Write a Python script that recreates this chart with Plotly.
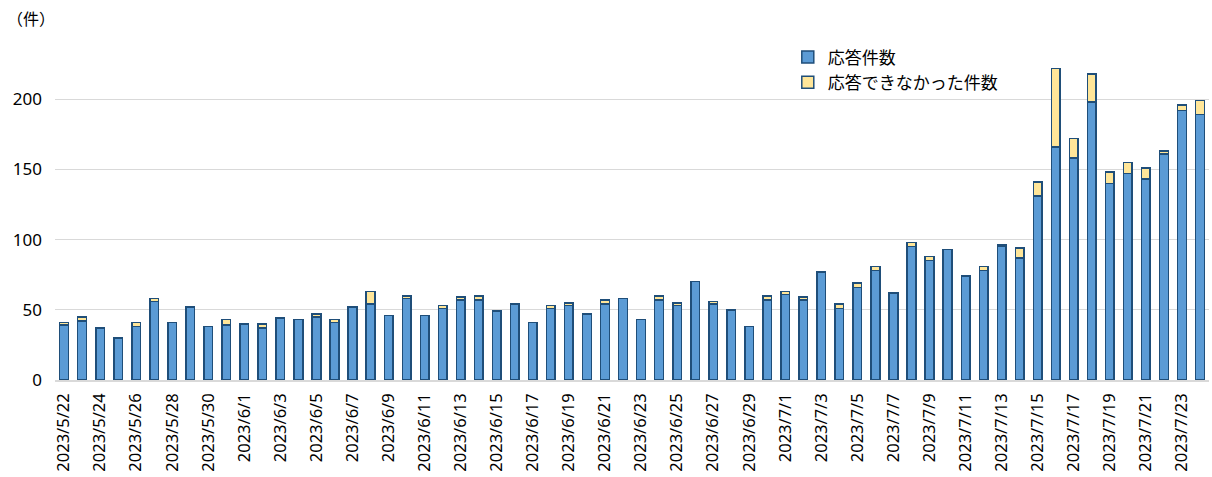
import plotly.graph_objects as go
import datetime as dt

start = dt.date(2023, 5, 22)
dates = [start + dt.timedelta(days=i) for i in range(64)]
categories = [f"{d.year}/{d.month}/{d.day}" for d in dates]

answered = [39, 42, 37, 30, 38, 56, 41, 52, 38, 39,
            40, 37, 44, 43, 45, 41, 52, 54, 46, 58,
            46, 51, 57, 57, 49, 54, 41, 51, 53, 47,
            54, 58, 43, 57, 53, 70, 54, 50, 38, 57,
            61, 57, 77, 51, 66, 78, 62, 95, 85, 93,
            74, 78, 95, 87, 131, 166, 158, 198, 140, 147,
            143, 161, 192, 189]
unanswered = [2, 3, 0, 0, 3, 2, 0, 0, 0, 4,
              0, 3, 0, 0, 2, 2, 0, 9, 0, 2,
              0, 2, 2, 3, 0, 0, 0, 2, 2, 0,
              3, 0, 0, 3, 2, 0, 2, 0, 0, 3,
              2, 2, 0, 3, 3, 3, 0, 3, 3, 0,
              0, 3, 1, 7, 10, 56, 14, 20, 8, 8,
              8, 2, 4, 10]
tick_labels = categories[::2]
y_ticks = [0, 50, 100, 150, 200]

border = "#1F4E79"
fig = go.Figure()
fig.add_trace(go.Bar(x=categories, y=answered, name="応答件数",
                     marker=dict(color="#5B9BD5", line=dict(color=border, width=1.5))))
fig.add_trace(go.Bar(x=categories, y=unanswered, name="応答できなかった件数",
                     marker=dict(color="#FFE699", line=dict(color=border, width=1.5))))

font_main = "'Noto Sans', 'Noto Sans CJK JP', 'Liberation Sans', sans-serif"
fig.update_layout(
    width=1212, height=477,
    barmode="stack", bargap=0.52,
    plot_bgcolor="white", paper_bgcolor="white",
    margin=dict(l=55, r=3, t=29, b=97),
    font=dict(family=font_main, color="#000000", size=15),
    showlegend=True,
    legend=dict(x=0.635, y=0.97, xanchor="left", yanchor="top",
                traceorder="normal", bgcolor="rgba(0,0,0,0)",
                font=dict(size=17, color="#000000", family="'Noto Sans CJK JP', sans-serif"),
                itemwidth=30, tracegroupgap=0),
    xaxis=dict(type="category", tickmode="array", tickvals=tick_labels, ticktext=tick_labels,
               tickangle=-90, showgrid=False, showline=True, linecolor="#D9D9D9", linewidth=1.5,
               ticks="", tickfont=dict(size=16.5, color="#000000"), range=[-0.5, 63.5],
               automargin=False, ticklabelstandoff=5),
    yaxis=dict(range=[0, 250], tickmode="array", tickvals=y_ticks, showgrid=True,
               gridcolor="#D9D9D9", gridwidth=1, zeroline=False, showline=False,
               ticks="", tickfont=dict(size=17, color="#000000"), ticklabelstandoff=12,
               automargin=False),
    annotations=[dict(text="（件）", xref="paper", yref="paper", x=-0.043, y=1.03,
                      xanchor="left", yanchor="middle", showarrow=False,
                      font=dict(size=16, color="#000000", family="'Noto Sans CJK JP', sans-serif"))],
)

fig.write_html("out.html", config={"displayModeBar": False},
               post_script="document.body.style.margin='0';")
